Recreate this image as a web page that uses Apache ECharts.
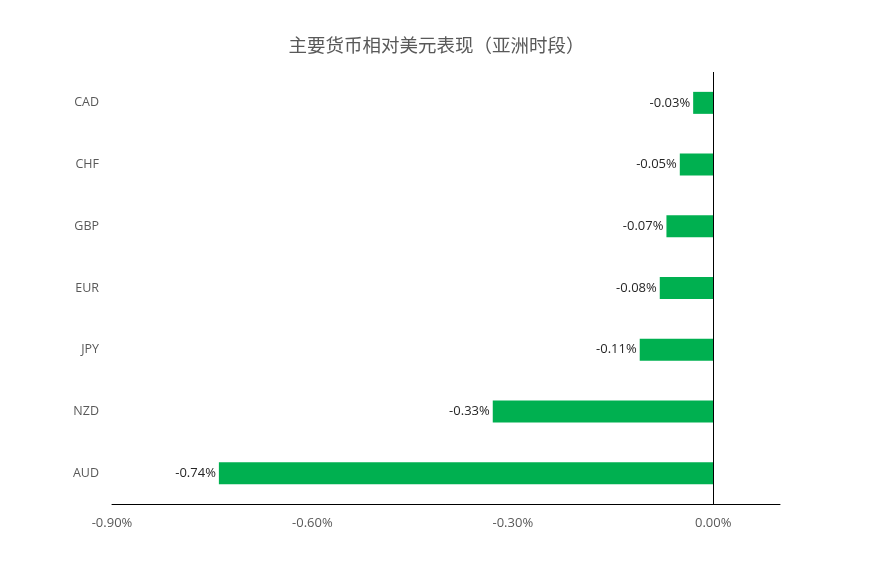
<!DOCTYPE html>
<html><head><meta charset="utf-8">
<script src="https://cdn.jsdelivr.net/npm/echarts@6/dist/echarts.min.js"></script>
<style>html,body{margin:0;padding:0;background:#fff}#c{width:873px;height:571px}</style>
</head><body><div id="c"></div>
<script>
var categories = ['AUD','NZD','JPY','EUR','GBP','CHF','CAD'];
var values = [-0.74,-0.33,-0.11,-0.08,-0.07,-0.05,-0.03];
var titleText = '主要货币相对美元表现（亚洲时段）';
var chart = echarts.init(document.getElementById('c'));
chart.setOption({
  backgroundColor:'#fff',
  animation:false,
  title:{text:titleText,left:'center',top:31,textStyle:{fontFamily:'Noto Sans CJK SC',fontSize:18.5,fontWeight:'normal',color:'#595959'}},
  grid:{left:112,right:93,top:72,bottom:67},
  xAxis:{type:'value',min:-0.9,max:0.1,interval:0.3,
    axisLine:{show:true,lineStyle:{color:'#000',width:1}},
    axisTick:{show:false},splitLine:{show:false},
    axisLabel:{color:'#595959',fontSize:13,fontFamily:'Open Sans',margin:13,
      formatter:function(v){return v>0.0001?'':v.toFixed(2)+'%';}}},
  yAxis:{type:'category',data:categories,
    axisLine:{show:false},axisTick:{show:false},
    axisLabel:{color:'#595959',fontSize:12.5,fontFamily:'Open Sans',margin:13}},
  series:[{type:'bar',data:values,barWidth:22,itemStyle:{color:'#00B050'},
    label:{show:true,position:'left',distance:3,color:'#262626',fontSize:13,fontFamily:'Open Sans',
      formatter:function(p){return p.value.toFixed(2)+'%';}},
    markLine:{silent:true,symbol:'none',label:{show:false},
      lineStyle:{color:'#000',width:1,type:'solid'},data:[{xAxis:0}]}
  }]
});
</script></body></html>
